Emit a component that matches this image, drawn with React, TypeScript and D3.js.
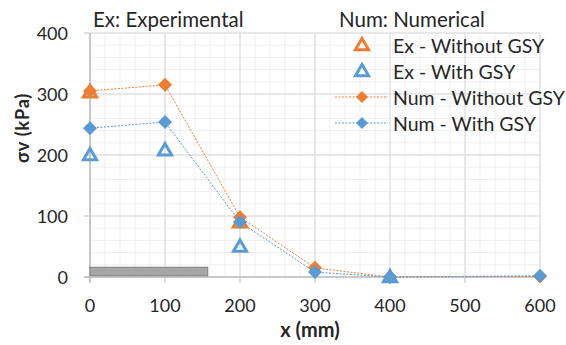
import React from 'react';
import * as d3 from 'd3';

interface Pt {
    x: number;
    y: number;
}

const exWithout: Pt[] = [
    { x: 0, y: 303 },
    { x: 200, y: 90 },
];
const exWith: Pt[] = [
    { x: 0, y: 200 },
    { x: 100, y: 208 },
    { x: 200, y: 50 },
    { x: 400, y: 0 },
];
const numWithout: Pt[] = [
    { x: 0, y: 305 },
    { x: 100, y: 315 },
    { x: 200, y: 98 },
    { x: 300, y: 15 },
    { x: 400, y: 0 },
    { x: 600, y: 1 },
];
const numWith: Pt[] = [
    { x: 0, y: 244 },
    { x: 100, y: 254 },
    { x: 200, y: 90 },
    { x: 300, y: 8 },
    { x: 400, y: 0 },
    { x: 600, y: 2 },
];
const xTicks = [0, 100, 200, 300, 400, 500, 600];
const yTicks = [0, 100, 200, 300, 400];
const plate = { x0: 0, x1: 157, y0: 2, y1: 16 };

const ORANGE = '#ED7D31';
const BLUE = '#5B9BD5';
const FONT = 'Lato, "Open Sans", sans-serif';

const W = 566;
const H = 345;

const App: React.FC = () => {
    const x = d3.scaleLinear().domain([0, 600]).range([90, 540]);
    const y = d3.scaleLinear().domain([0, 400]).range([277, 33]);

    const line = d3
        .line<Pt>()
        .x((d) => x(d.x))
        .y((d) => y(d.y));

    const tri = d3.symbol().type(d3.symbolTriangle).size(75)() as string;
    const dia = (s: number) => {
        const h = s / 2;
        return `M0,${-h}L${h},0L0,${h}L${-h},0Z`;
    };

    const minorX = d3.range(0, 601, 20);
    const minorY = d3.range(0, 401, 20);

    const legend = [
        { label: 'Ex - Without GSY', color: ORANGE, kind: 'tri' },
        { label: 'Ex - With GSY', color: BLUE, kind: 'tri' },
        { label: 'Num - Without GSY', color: ORANGE, kind: 'dia' },
        { label: 'Num - With GSY', color: BLUE, kind: 'dia' },
    ];

    return (
        <svg width={W} height={H} style={{ position: 'absolute', left: 0, top: 0, background: '#fff' }}>
            {/* minor grid */}
            <g stroke="#efefef" strokeWidth={1}>
                {minorX.map((v) => (
                    <line key={'mx' + v} x1={x(v)} x2={x(v)} y1={y(0)} y2={y(400)} />
                ))}
                {minorY.map((v) => (
                    <line key={'my' + v} x1={x(0)} x2={x(600)} y1={y(v)} y2={y(v)} />
                ))}
            </g>
            {/* major grid */}
            <g stroke="#d9d9d9" strokeWidth={1}>
                {xTicks.map((v) => (
                    <line key={'gx' + v} x1={x(v)} x2={x(v)} y1={y(0)} y2={y(400)} />
                ))}
                {yTicks.map((v) => (
                    <line key={'gy' + v} x1={x(0)} x2={x(600)} y1={y(v)} y2={y(v)} />
                ))}
            </g>
            {/* axes */}
            <line x1={x(0)} x2={x(0)} y1={y(0) + 6} y2={y(400)} stroke="#bfbfbf" strokeWidth={1.5} />
            <line x1={x(0) - 6} x2={x(600)} y1={y(0)} y2={y(0)} stroke="#bfbfbf" strokeWidth={1.5} />
            {xTicks.map((v) => (
                <line key={'tx' + v} x1={x(v)} x2={x(v)} y1={y(0)} y2={y(0) + 6} stroke="#bfbfbf" />
            ))}
            {yTicks.map((v) => (
                <line key={'ty' + v} x1={x(0) - 6} x2={x(0)} y1={y(v)} y2={y(v)} stroke="#bfbfbf" />
            ))}

            {/* plate */}
            <rect
                x={x(plate.x0)}
                y={y(plate.y1)}
                width={x(plate.x1) - x(plate.x0)}
                height={y(plate.y0) - y(plate.y1)}
                fill="#a6a6a6"
                stroke="#7f7f7f"
                strokeWidth={1}
            />

            {/* numerical lines */}
            <path d={line(numWithout) as string} fill="none" stroke={ORANGE} strokeWidth={1} strokeDasharray="2,1.5" />
            <path d={line(numWith) as string} fill="none" stroke={BLUE} strokeWidth={1} strokeDasharray="2,1.5" />

            {/* markers */}
            {numWithout.map((d, i) => (
                <path key={'nwo' + i} d={dia(14)} transform={`translate(${x(d.x)},${y(d.y)})`} fill={ORANGE} />
            ))}
            {exWithout.map((d, i) => (
                <path key={'ewo' + i} d={tri} transform={`translate(${x(d.x)},${y(d.y) + 1})`} fill="none" stroke={ORANGE} strokeWidth={3} />
            ))}
            {numWith.map((d, i) => (
                <path key={'nw' + i} d={dia(14)} transform={`translate(${x(d.x)},${y(d.y)})`} fill={BLUE} />
            ))}
            {exWith.map((d, i) => (
                <path key={'ew' + i} d={tri} transform={`translate(${x(d.x)},${y(d.y) + 1})`} fill="none" stroke={BLUE} strokeWidth={3} />
            ))}

            {/* tick labels */}
            <g fontFamily={FONT} fontSize={18} fill="#262626">
                {yTicks.map((v) => (
                    <text key={'ly' + v} x={x(0) - 22} y={y(v)} textAnchor="end" dominantBaseline="central">
                        {v}
                    </text>
                ))}
                {xTicks.map((v) => (
                    <text key={'lx' + v} x={x(v)} y={y(0) + 28} textAnchor="middle" dominantBaseline="central">
                        {v}
                    </text>
                ))}
            </g>

            {/* axis titles */}
            <text
                transform={`translate(22,128) rotate(-90)`}
                textAnchor="middle"
                dominantBaseline="central"
                fontFamily={FONT}
                fontSize={18}
                fontWeight="bold"
                letterSpacing={0.8}
                fill="#262626"
            >
                σv (kPa)
            </text>
            <text
                x={310}
                y={329}
                textAnchor="middle"
                dominantBaseline="central"
                fontFamily={FONT}
                fontSize={20}
                fontWeight="bold"
                fill="#262626"
            >
                x (mm)
            </text>

            {/* notes */}
            <g fontFamily={FONT} fontSize={20.5} fill="#262626">
                <text x={93} y={19} dominantBaseline="central">Ex: Experimental</text>
                <text x={339} y={19} dominantBaseline="central">Num: Numerical</text>
            </g>

            {/* legend */}
            <g fontFamily={FONT} fontSize={19.5} fill="#262626">
                {legend.map((l, i) => {
                    const cy = 45 + i * 26;
                    return (
                        <g key={l.label}>
                            {l.kind === 'tri' ? (
                                <path d={tri} transform={`translate(362,${cy + 1})`} fill="none" stroke={l.color} strokeWidth={3} />
                            ) : (
                                <>
                                    <line x1={335} x2={388} y1={cy} y2={cy} stroke={l.color} strokeWidth={1} strokeDasharray="2,1.5" />
                                    <path d={dia(12)} transform={`translate(362,${cy})`} fill={l.color} />
                                </>
                            )}
                            <text x={393} y={cy} dominantBaseline="central">
                                {l.label}
                            </text>
                        </g>
                    );
                })}
            </g>
        </svg>
    );
};

export default App;
